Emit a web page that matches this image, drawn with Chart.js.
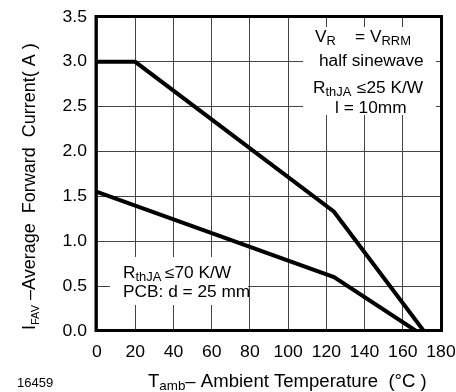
<!DOCTYPE html>
<html><head><meta charset="utf-8">
<script src="https://cdn.jsdelivr.net/npm/chart.js@4/dist/chart.umd.min.js"></script>
<style>html,body{margin:0;padding:0;background:#fff;}</style>
</head><body>
<canvas id="c" width="456" height="392"></canvas>
<script>
// ---- data ----
const tempA = [0, 20, 124, 171];
const currentA = [3.0, 3.0, 1.33, 0];
const tempB = [0, 124, 167];
const currentB = [1.55, 0.6, 0];
const xTickValues = [0, 20, 40, 60, 80, 100, 120, 140, 160, 180];
const yTickValues = [0, 0.5, 1.0, 1.5, 2.0, 2.5, 3.0, 3.5];
const yTickLabels = ['0.0', '0.5', '1.0', '1.5', '2.0', '2.5', '3.0', '3.5'];

const FONT = '"Liberation Sans", Arial, Helvetica, sans-serif';

function drawRich(ctx, x, y, parts, opt) {
  opt = opt || {};
  ctx.save();
  ctx.translate(x, y);
  if (opt.rot) ctx.rotate(opt.rot);
  ctx.scale(opt.sx || 1, opt.sy || 1);
  ctx.fillStyle = '#000';
  ctx.textAlign = 'left';
  ctx.textBaseline = 'alphabetic';
  let total = 0;
  parts.forEach(p => { ctx.font = p.s + 'px ' + FONT; total += ctx.measureText(p.t).width; });
  let cx = opt.align === 'center' ? -total / 2 : (opt.align === 'right' ? -total : 0);
  parts.forEach(p => {
    ctx.font = p.s + 'px ' + FONT;
    if (p.x !== undefined) cx = (p.x - x) / (opt.sx || 1);
    ctx.fillText(p.t, cx, p.dy || 0);
    cx += ctx.measureText(p.t).width;
  });
  ctx.restore();
}

const decor = {
  id: 'decor',
  beforeDatasetsDraw(chart) {
    const ctx = chart.ctx;
    ctx.save();
    ctx.fillStyle = '#fff';
    ctx.fillRect(303, 27, 133, 88);
    ctx.fillRect(110, 257, 138, 48);
    ctx.restore();
  },
  afterDraw(chart) {
    const ctx = chart.ctx;
    const a = chart.chartArea;
    const xs = chart.scales.x, ys = chart.scales.y;
    // frame
    ctx.save();
    ctx.strokeStyle = '#000';
    ctx.lineWidth = 3;
    ctx.strokeRect(a.left - 1, a.top - 0.5, a.right - a.left + 1.5, a.bottom - a.top);
    ctx.restore();
    // tick labels
    xTickValues.forEach(v => {
      drawRich(ctx, xs.getPixelForValue(v), 357, [{t: String(v), s: 16}], {sx: 1.1, align: 'center'});
    });
    yTickValues.forEach((v, i) => {
      drawRich(ctx, 87, ys.getPixelForValue(v) + 4.5, [{t: yTickLabels[i], s: 16}], {sx: 1.1, align: 'right'});
    });
    // x title
    drawRich(ctx, 148, 387, [
      {t: 'T', s: 18}, {t: 'amb', s: 13, dy: 3}, {t: '\u2013 Ambient Temperature  (\u00B0C )', s: 18}
    ], {sx: 1.03});
    // y title
    drawRich(ctx, 35, 330, [
      {t: 'I', s: 18}, {t: 'FAV', s: 11, dy: 4}, {t: ' \u2013Average  Forward  Current( A )', s: 18}
    ], {rot: -Math.PI / 2, sy: 1.05});
    // figure number
    drawRich(ctx, 17, 387, [{t: '16459', s: 13}], {sx: 1.0});
    // annotations top right
    const S = 16, SS = 12, SX = 1.08;
    drawRich(ctx, 315, 42, [
      {t: 'V', s: S}, {t: 'R', s: SS, dy: 3}, {t: '= V', s: S, x: 355}, {t: 'RRM', s: SS, dy: 3}
    ], {sx: SX});
    drawRich(ctx, 319, 66, [{t: 'half sinewave', s: S}], {sx: SX});
    drawRich(ctx, 313, 93, [
      {t: 'R', s: S}, {t: 'thJA', s: SS, dy: 3}, {t: '\u226425 K/W', s: S, x: 357}
    ], {sx: SX});
    drawRich(ctx, 335, 113, [{t: 'l = 10mm', s: S}], {sx: SX});
    // annotations bottom left
    drawRich(ctx, 123, 278, [
      {t: 'R', s: S}, {t: 'thJA', s: SS, dy: 3}, {t: '\u226470 K/W', s: S, x: 165}
    ], {sx: SX});
    drawRich(ctx, 123, 297, [{t: 'PCB: d = 25 mm', s: S}], {sx: SX});
  }
};

new Chart(document.getElementById('c'), {
  type: 'scatter',
  data: {
    datasets: [
      {data: tempA.map((t, i) => ({x: t, y: currentA[i]})), showLine: true, borderColor: '#000', borderWidth: 4, pointRadius: 0, tension: 0, borderJoinStyle: 'miter', borderCapStyle: 'butt'},
      {data: tempB.map((t, i) => ({x: t, y: currentB[i]})), showLine: true, borderColor: '#000', borderWidth: 4, pointRadius: 0, tension: 0, borderJoinStyle: 'miter', borderCapStyle: 'butt'}
    ]
  },
  options: {
    responsive: false,
    animation: false,
    devicePixelRatio: 1,
    layout: {padding: {top: 17, right: 15, left: 0, bottom: 0}},
    plugins: {legend: {display: false}, tooltip: {enabled: false}},
    scales: {
      x: {
        type: 'linear', min: 0, max: 180,
        ticks: {display: false, stepSize: 20},
        grid: {color: '#444', lineWidth: 1, drawTicks: false},
        border: {display: false},
        afterFit(s) { s.height = 61; }
      },
      y: {
        type: 'linear', min: 0, max: 3.5,
        ticks: {display: false, stepSize: 0.5},
        grid: {color: '#444', lineWidth: 1, drawTicks: false},
        border: {display: false},
        afterFit(s) { s.width = 97; }
      }
    }
  },
  plugins: [decor]
});
</script>
</body></html>
